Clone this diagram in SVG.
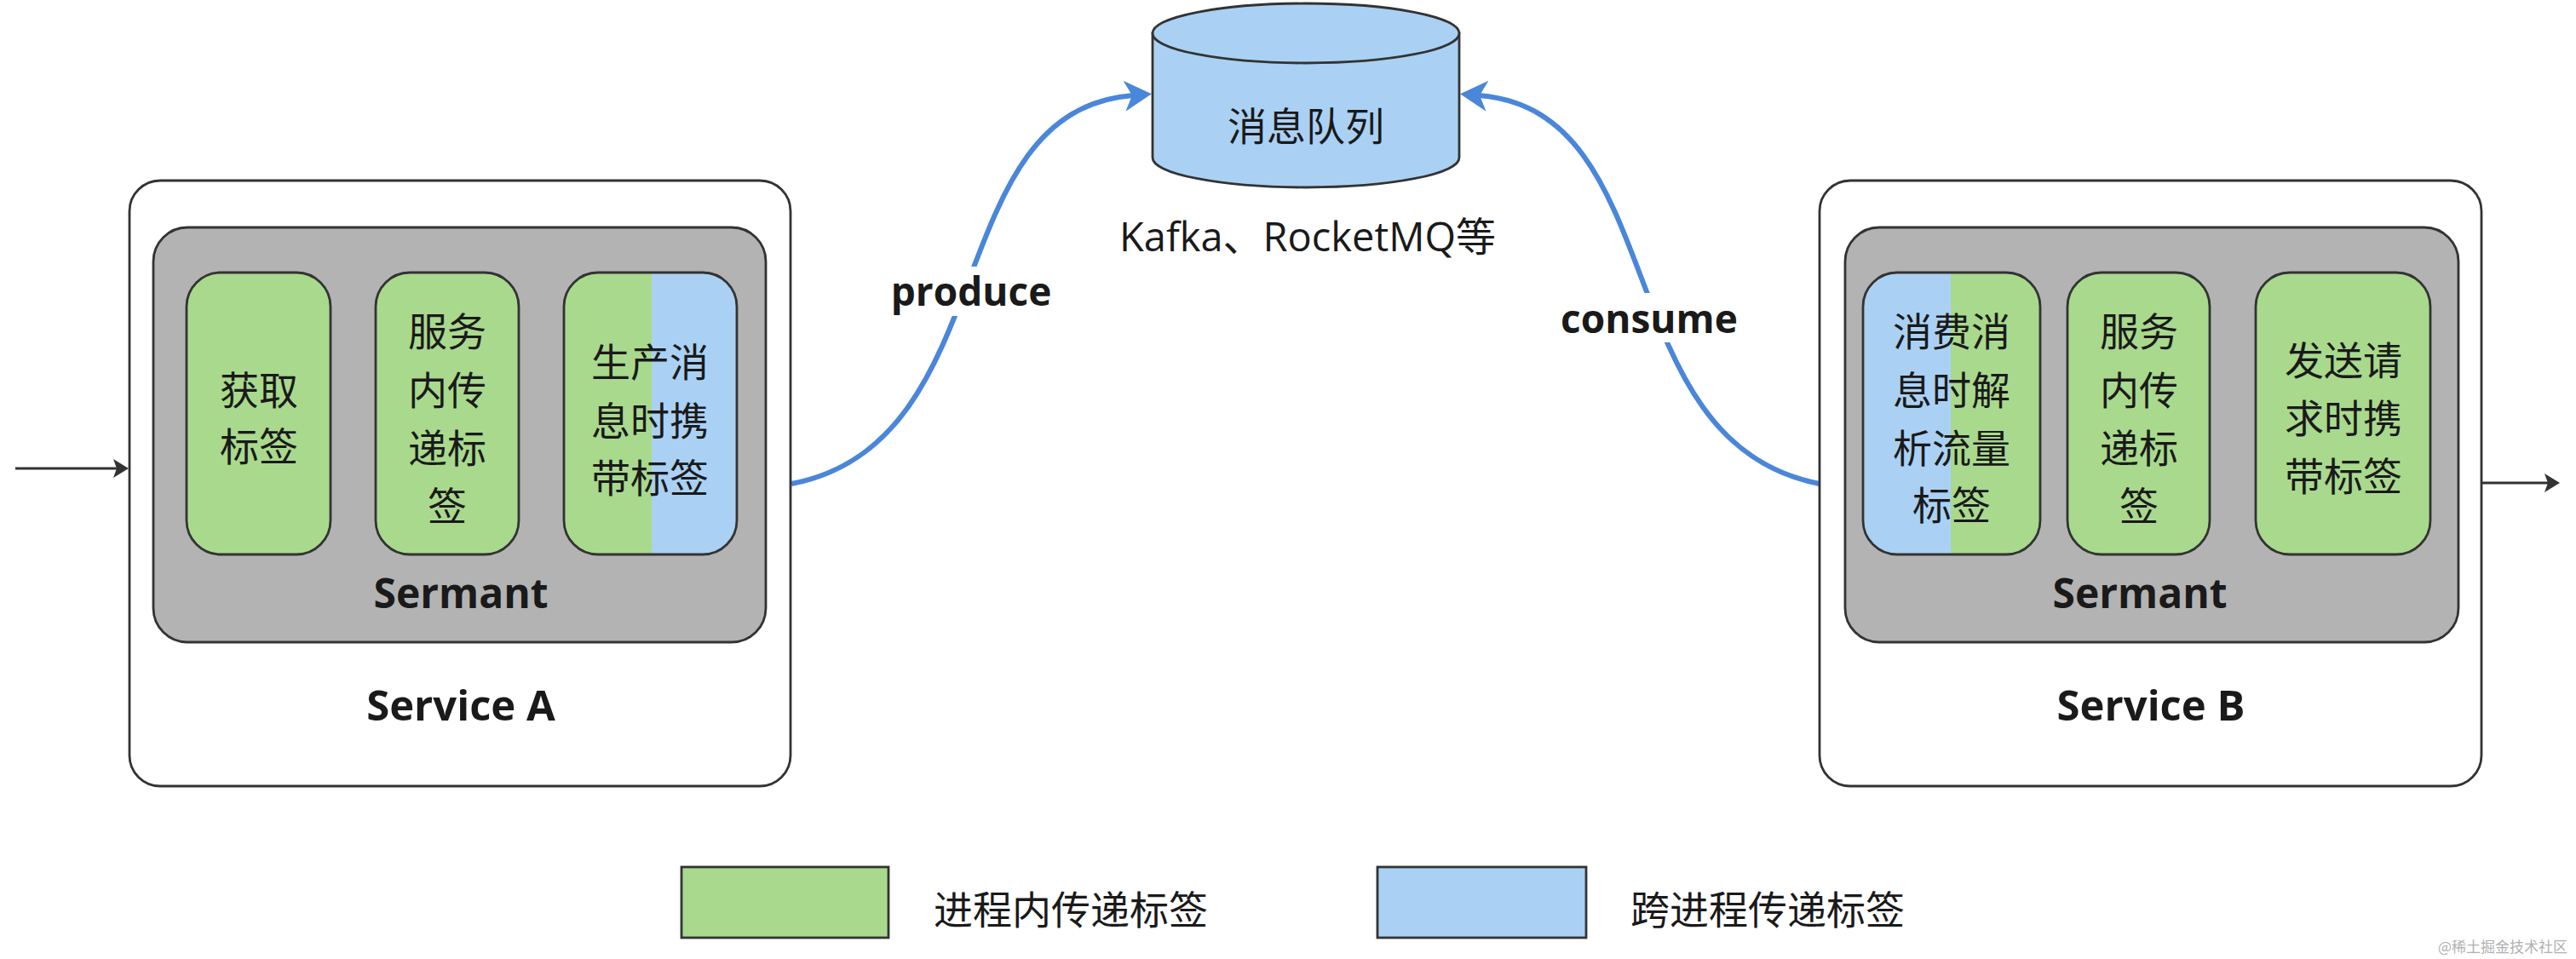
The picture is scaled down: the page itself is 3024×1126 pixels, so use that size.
<svg xmlns="http://www.w3.org/2000/svg" width="3024" height="1126" viewBox="0 0 3024 1126">
<style>
.outer{fill:#ffffff;stroke:#333333;stroke-width:2.8}
.grey{fill:#b3b3b3;stroke:#333333;stroke-width:2.8}
.green{fill:#a9d98d}
.blue{fill:#aad1f4}
.edge{fill:none;stroke:#333333;stroke-width:2.8}
.cj{font-family:"Noto Sans CJK SC","Noto Sans",sans-serif;font-size:46px;fill:#1a1a1a;text-anchor:middle;dominant-baseline:central}
.bold{font-family:"Open Sans","Noto Sans CJK SC",sans-serif;font-weight:bold;fill:#1a1a1a;text-anchor:middle;dominant-baseline:central}
.flow{fill:none;stroke:#4a86da;stroke-width:6}
.blk{fill:none;stroke:#333333;stroke-width:3}
</style>
<defs>
<marker id="bh" markerUnits="userSpaceOnUse" markerWidth="32" markerHeight="36" viewBox="0 0 32 36" refX="10" refY="18" orient="auto">
<path d="M0,0 L32,18 L0,36 L9,18 Z" fill="#4a86da"/>
</marker>
<marker id="ah" markerUnits="userSpaceOnUse" markerWidth="18" markerHeight="22" viewBox="0 0 18 22" refX="14" refY="11" orient="auto">
<path d="M0,0 L18,11 L0,22 L4,11 Z" fill="#333333"/>
</marker>
<clipPath id="cA3"><rect x="662" y="320" width="203" height="331" rx="40"/></clipPath>
<clipPath id="cB1"><rect x="2187" y="320" width="208" height="331" rx="40"/></clipPath>
</defs>

<g id="connectors">
<path class="blk" d="M18,550 L147,550" marker-end="url(#ah)"/>
<path class="blk" d="M388,484 L436,484" marker-end="url(#ah)"/>
<path class="blk" d="M609,484 L657,484" marker-end="url(#ah)"/>
<path class="blk" d="M2395,484 L2422,484" marker-end="url(#ah)"/>
<path class="blk" d="M2594,484 L2643,484" marker-end="url(#ah)"/>
<path class="blk" d="M2913,567 L3001,567" marker-end="url(#ah)"/>
<path class="flow" d="M929,568 C1180,520 1100,130 1330,112" marker-end="url(#bh)"/>
<path class="flow" d="M2136,568 C1885,520 1965,130 1736,112" marker-end="url(#bh)"/>
<rect x="1044" y="313" width="192" height="58" fill="#ffffff"/>
<text class="bold" x="1140" y="341" font-size="46">produce</text>
<rect x="1834" y="344" width="206" height="58" fill="#ffffff"/>
<text class="bold" x="1936" y="373" font-size="46">consume</text>
</g>

<g id="serviceA">
<rect class="outer" x="152" y="212" width="776" height="711" rx="36"/>
<text class="bold" x="541" y="827" font-size="49">Service A</text>
</g>
<g id="sermantA">
<rect class="grey" x="180" y="267" width="719" height="487" rx="40"/>
<text class="bold" x="541" y="695" font-size="48">Sermant</text>
</g>
<g id="a1">
<rect class="edge" x="219" y="320" width="169" height="331" rx="40" style="fill:#a9d98d"/>
<text class="cj" x="304" y="455">获取</text>
<text class="cj" x="304" y="521">标签</text>
</g>
<g id="a2">
<rect class="edge" x="441" y="320" width="168" height="331" rx="40" style="fill:#a9d98d"/>
<text class="cj" x="525" y="386">服务</text>
<text class="cj" x="525" y="455">内传</text>
<text class="cj" x="525" y="523">递标</text>
<text class="cj" x="525" y="591">签</text>
</g>
<g id="a3">
<rect x="662" y="320" width="203" height="331" rx="40" class="green"/>
<rect x="765" y="320" width="100" height="331" class="blue" clip-path="url(#cA3)"/>
<rect class="edge" x="662" y="320" width="203" height="331" rx="40"/>
<text class="cj" x="763" y="422">生产消</text>
<text class="cj" x="763" y="491">息时携</text>
<text class="cj" x="763" y="558">带标签</text>
</g>

<g id="queue">
<path d="M1353,39 L1353,185 A180,35 0 0 0 1713,185 L1713,39 Z" fill="#aad1f4" stroke="#333333" stroke-width="2.8"/>
<ellipse cx="1533" cy="39" rx="180" ry="35" fill="#aad1f4" stroke="#333333" stroke-width="2.8"/>
<text class="cj" x="1533" y="145">消息队列</text>
</g>
<text x="1535" y="277" font-family="'Open Sans','Noto Sans CJK SC',sans-serif" font-size="47" fill="#1a1a1a" text-anchor="middle" dominant-baseline="central">Kafka、RocketMQ等</text>

<g id="serviceB">
<rect class="outer" x="2136" y="212" width="777" height="711" rx="36"/>
<text class="bold" x="2525" y="827" font-size="49">Service B</text>
</g>
<g id="sermantB">
<rect class="grey" x="2166" y="267" width="720" height="487" rx="40"/>
<text class="bold" x="2512" y="695" font-size="48">Sermant</text>
</g>
<g id="b1">
<rect x="2187" y="320" width="208" height="331" rx="40" class="green"/>
<rect x="2187" y="320" width="103" height="331" class="blue" clip-path="url(#cB1)"/>
<rect class="edge" x="2187" y="320" width="208" height="331" rx="40"/>
<text class="cj" x="2291" y="386">消费消</text>
<text class="cj" x="2291" y="455">息时解</text>
<text class="cj" x="2291" y="523">析流量</text>
<text class="cj" x="2291" y="590">标签</text>
</g>
<g id="b2">
<rect class="edge" x="2427" y="320" width="167" height="331" rx="40" style="fill:#a9d98d"/>
<text class="cj" x="2511" y="386">服务</text>
<text class="cj" x="2511" y="455">内传</text>
<text class="cj" x="2511" y="523">递标</text>
<text class="cj" x="2511" y="591">签</text>
</g>
<g id="b3">
<rect class="edge" x="2648" y="320" width="205" height="331" rx="40" style="fill:#a9d98d"/>
<text class="cj" x="2751" y="420">发送请</text>
<text class="cj" x="2751" y="488">求时携</text>
<text class="cj" x="2751" y="556">带标签</text>
</g>

<g id="legend">
<rect x="800" y="1018" width="243" height="83" fill="#a9d98d" stroke="#333333" stroke-width="2.8"/>
<text class="cj" x="1257" y="1065">进程内传递标签</text>
<rect x="1617" y="1018" width="245" height="83" fill="#aad1f4" stroke="#333333" stroke-width="2.8"/>
<text class="cj" x="2075" y="1065">跨进程传递标签</text>
</g>
<text x="3014" y="1110" font-family="'Noto Sans CJK SC',sans-serif" font-size="17" fill="#b0b0b0" text-anchor="end" dominant-baseline="central">@稀土掘金技术社区</text>
</svg>
